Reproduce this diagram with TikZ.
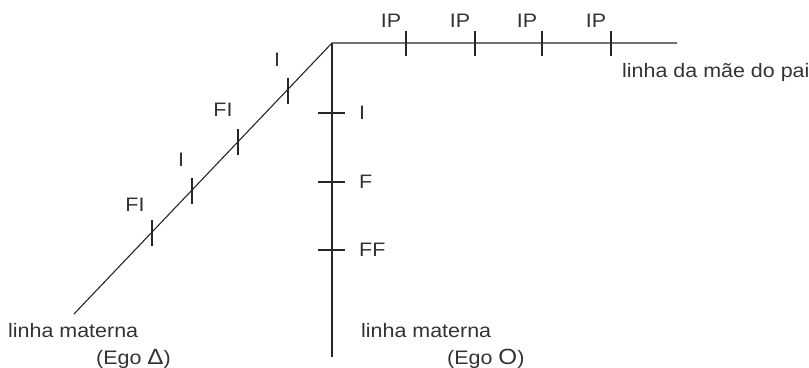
\documentclass[tikz,border=0pt]{standalone}
\usepackage{fontspec}
\setmainfont[FakeStretch=1.1]{Liberation Sans}
\begin{document}
\begin{tikzpicture}[x=1pt,y=-1pt,
  line/.style={line width=1.1pt,draw=black!85},
  tick/.style={line width=1.1pt,draw=black!85},
  lbl/.style={inner sep=0pt,text=black!80,font=\fontsize{19.5}{22}\selectfont},
]
\useasboundingbox (0,0) rectangle (809,367);
% main lines
\coordinate (apex) at (332,43);
\coordinate (hend) at (677,43);
\coordinate (vend) at (332,357);
\coordinate (dend) at (74,314);
\draw[line] (dend) -- (apex) -- (hend);
\draw[line] (apex) -- (vend);
% ticks on the horizontal line
\foreach \i/\x in {1/406,2/475,3/542,4/611}{
  \coordinate (h\i) at (\x,43);
  \draw[tick] ([yshift=-12.5pt]h\i) -- ([yshift=12.5pt]h\i);
  \node[lbl,anchor=base] (ip\i) at (\x-15,27) {IP};
}
% ticks on the vertical line
\foreach \i/\y/\t in {1/113/I,2/182/F,3/250/FF}{
  \coordinate (v\i) at (332,\y);
  \draw[tick] ([xshift=-14pt]v\i) -- ([xshift=13pt]v\i);
  \node[lbl,anchor=west] (vl\i) at (359,\y) {\t};
}
% ticks on the diagonal line
\foreach \i/\x/\y/\lx/\ly/\t in {1/152/233/135/205/FI,2/192/191/181/160/I,3/238/142/223/110/FI,4/288/91/277/60/I}{
  \coordinate (d\i) at (\x,\y);
  \draw[tick] ([yshift=-13pt]d\i) -- ([yshift=13pt]d\i);
  \node[lbl] (dl\i) at (\lx,\ly) {\t};
}
% texts
\node[lbl,anchor=base west] (pat) at (622,77) {linha da mãe do pai};
\node[lbl,anchor=base west] (mat1) at (8,337) {linha materna};
\node[lbl,anchor=base west] (ego1) at (96,364) {(Ego {\fontsize{22}{22}\selectfont Δ})};
\node[lbl,anchor=base west] (mat2) at (361,337) {linha materna};
\node[lbl,anchor=base west] (ego2) at (447,364) {(Ego {\fontsize{22}{22}\selectfont O})};
\end{tikzpicture}
\end{document}
